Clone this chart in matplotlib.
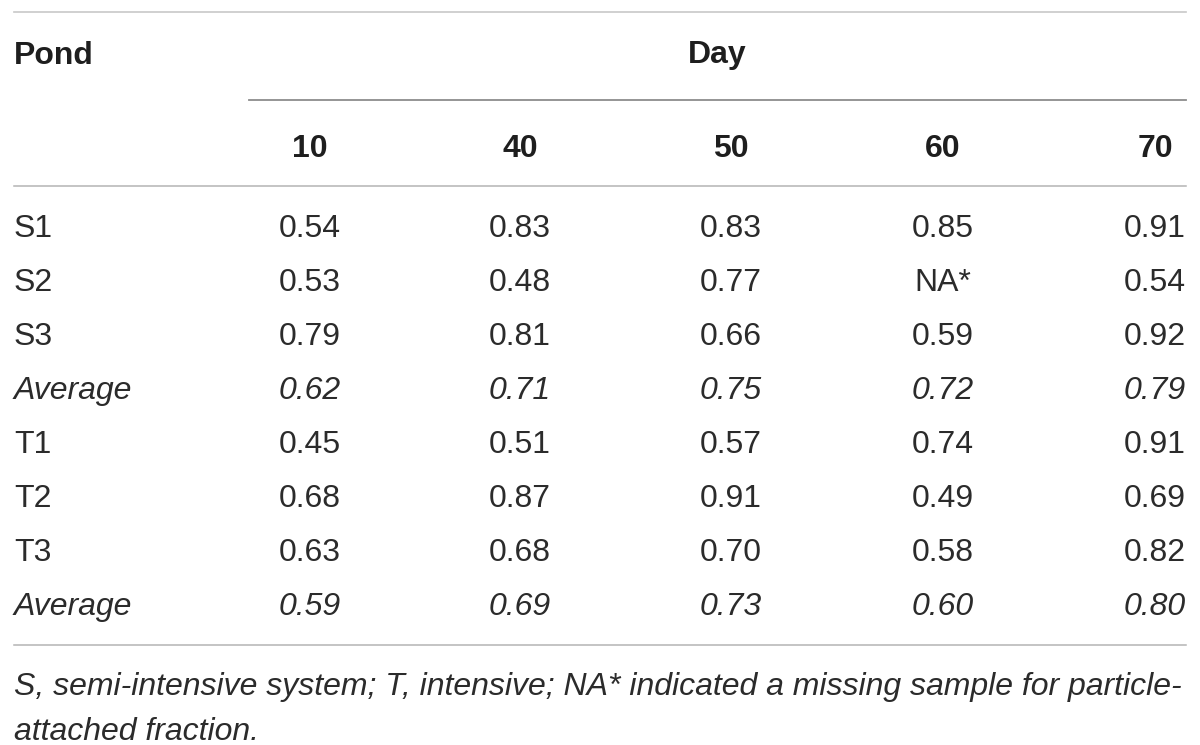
import matplotlib
import matplotlib.pyplot as plt

matplotlib.use('agg')
plt.rcParams['font.family'] = ['Liberation Sans', 'DejaVu Sans']

# table contents
days = ['10', '40', '50', '60', '70']
ponds = ['S1', 'S2', 'S3', 'Average', 'T1', 'T2', 'T3', 'Average']
day10 = ['0.54', '0.53', '0.79', '0.62', '0.45', '0.68', '0.63', '0.59']
day40 = ['0.83', '0.48', '0.81', '0.71', '0.51', '0.87', '0.68', '0.69']
day50 = ['0.83', '0.77', '0.66', '0.75', '0.57', '0.91', '0.70', '0.73']
day60 = ['0.85', 'NA*', '0.59', '0.72', '0.74', '0.49', '0.58', '0.60']
day70 = ['0.91', '0.54', '0.92', '0.79', '0.91', '0.69', '0.82', '0.80']
italic_rows = [3, 7]
footnote = ['S, semi-intensive system; T, intensive; NA* indicated a missing sample for particle-',
            'attached fraction.']

columns = [day10, day40, day50, day60, day70]

# layout in pixels (baselines)
W, H = 1200, 745
left, right = 14, 1186
col_x = [310, 520, 731, 943, 1155]
row_y0, row_dy = 237, 54
fs = 23
txt = '#2b2b2b'
head = '#1e1e1e'

fig = plt.figure(figsize=(W/100, H/100), dpi=100)
ax = fig.add_axes([0, 0, 1, 1])
ax.set_xlim(0, W)
ax.set_ylim(H, 0)
ax.axis('off')

# rules
ax.plot([left, right], [12, 12], color='#c8c8c8', lw=1.2)
ax.plot([249, right], [99.5, 99.5], color='#8c8c8c', lw=1.3)
ax.plot([left, right], [186, 186], color='#b4b4b4', lw=1.1)
ax.plot([left, right], [645, 645], color='#b4b4b4', lw=1.1)

# headers
ax.text(left, 64.5, 'Pond', fontsize=fs, fontweight='bold', color=head, ha='left', va='baseline')
ax.text(717, 63.5, 'Day', fontsize=fs, fontweight='bold', color=head, ha='center', va='baseline')
for x, d in zip(col_x, days):
    ax.text(x, 157, d, fontsize=fs, fontweight='bold', color=head, ha='center', va='baseline')

# body
for i, p in enumerate(ponds):
    y = row_y0 + i*row_dy
    style = 'italic' if i in italic_rows else 'normal'
    ax.text(left, y, p, fontsize=fs, style=style, color=txt, ha='left', va='baseline')
    for x, col in zip(col_x, columns):
        ax.text(x, y, col[i], fontsize=fs, style=style, color=txt, ha='center', va='baseline')

# footnote
for j, line in enumerate(footnote):
    ax.text(left, 695 + j*45, line, fontsize=fs, style='italic', color=txt, ha='left', va='baseline')

fig.savefig('out.png', dpi=100)
